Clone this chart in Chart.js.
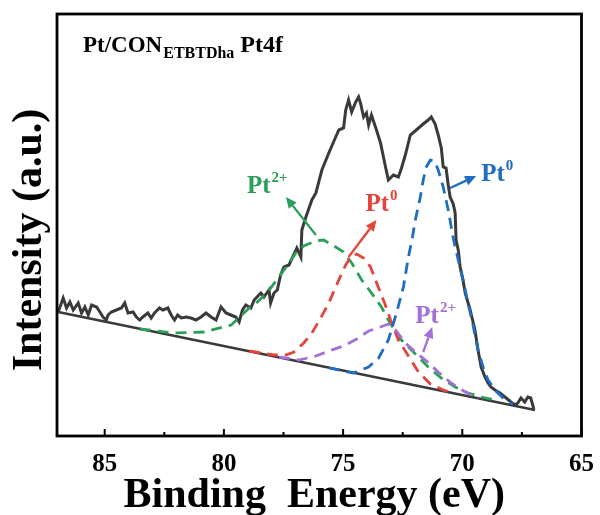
<!DOCTYPE html>
<html>
<head>
<meta charset="utf-8">
<script src="https://cdn.jsdelivr.net/npm/chart.js@4.4.1/dist/chart.umd.min.js"></script>
<style>
  html, body { margin: 0; padding: 0; background: #fff; }
</style>
</head>
<body>
<canvas id="myChart" width="600" height="515"></canvas>
<script>
// binding energy (eV) / intensity (a.u.)
const expE = [86.95,86.74,86.60,86.46,86.32,86.11,85.97,85.83,85.69,85.55,85.34,85.20,85.07,84.93,84.86,84.72,84.51,84.30,84.16,84.02,83.81,83.67,83.53,83.40,83.19,83.05,82.91,82.70,82.56,82.35,82.21,82.07,81.94,81.79,81.58,81.38,81.17,80.96,80.75,80.54,80.33,80.12,79.91,79.71,79.50,79.36,79.22,79.08,78.87,78.73,78.45,78.32,78.11,78.04,77.90,77.76,77.62,77.48,77.27,76.94,76.77,76.73,76.56,76.31,76.14,75.89,75.60,75.31,75.18,74.98,74.89,74.77,74.64,74.47,74.35,74.27,74.14,74.02,73.93,73.81,73.60,73.43,73.22,73.10,72.89,72.68,72.55,72.39,72.18,71.93,71.64,71.43,71.30,71.14,71.01,70.88,70.80,70.68,70.59,70.51,70.38,70.30,70.26,70.17,70.09,69.97,69.88,69.67,69.47,69.34,69.21,69.05,68.92,68.80,68.63,68.42,68.21,67.96,67.79,67.67,67.54,67.38,67.25,67.13,67.00];
const expI = [124,138,128,134,126,133,123,129,121,131,129,124,119,116,121,124,126,128,133,123,124,119,116,119,123,118,123,128,126,128,121,116,121,118,119,118,116,119,123,119,116,129,123,121,119,114,126,131,128,136,143,139,146,133,143,146,161,169,171,188,179,206,219,236,243,266,283,299,306,308,326,336,324,334,339,333,319,323,311,321,306,293,269,256,261,259,268,281,301,306,312,316,319,312,301,288,269,268,251,239,232,223,196,186,169,156,143,126,106,86,69,59,53,49,46,43,39,34,31,33,38,34,39,38,27];

const baseE = [86.95, 66.95];
const baseI = [124, 26];

const greenE = [83.53,82.07,80.82,79.69,78.94,78.73,78.19,77.48,76.98,76.65,76.14,75.81,75.31,74.98,74.64,74.22,73.81,73.39,73.10,72.68,72.26,71.84,71.43,70.88,70.30,69.76,69.21,68.63];
const greenI = [107,103,104,111,128,131,143,166,183,190,195,196,189,184,173,156,143,129,116,99,89,79,69,58,49,43,39,36];

const redE = [78.94,77.90,77.40,77.06,76.65,76.31,75.94,75.60,75.18,74.89,74.68,74.43,74.14,73.85,73.51,73.26,73.01,72.68,72.26,71.84,71.34,70.80,70.38];
const redI = [85,81,81,84,93,103,118,133,156,171,179,182,178,169,148,133,116,96,80,64,52,46,43];

const purpleE = [77.69,76.85,76.14,75.60,74.98,74.43,73.93,73.43,73.10,72.80,72.39,71.97,71.55,71.01,70.47,69.88,69.34];
const purpleI = [79,76,80,85,90,97,105,109,112,106,93,84,76,64,53,44,38];

const blueE = [75.60,74.56,73.93,73.51,73.10,72.76,72.47,72.26,72.09,71.97,71.76,71.64,71.51,71.34,71.17,71.01,70.80,70.59,70.38,70.17,69.97,69.76,69.55,69.34,69.13,68.92,68.59,68.21,67.88];
const blueI = [68,63,69,78,96,123,149,179,199,216,239,256,269,276,275,266,249,226,198,176,156,133,111,86,69,56,45,36,32];

const majorTicks = [85, 80, 75, 70, 65];
const minorTicks = [82.5, 77.5, 72.5, 67.5];

const GREEN = '#2b9f5a', RED = '#e5443a', BLUE = '#1f6cc4', PURPLE = '#a46fd6', GREY = '#3a3a3a';
const SERIF = '"Liberation Serif", "Times New Roman", serif';

// peak labels: text position, arrow start, arrow tip (all in data units)
const peakLabels = [
  { sup: '2+', color: GREEN,  at: [79.03, 243], from: [76.14, 201], to: [77.40, 239] },
  { sup: '0',  color: RED,    at: [74.06, 225], from: [74.77, 179], to: [73.60, 216] },
  { sup: '0',  color: BLUE,   at: [69.21, 255], from: [70.51, 248], to: [69.42, 260] },
  { sup: '2+', color: PURPLE, at: [71.97, 113], from: [71.64, 84],  to: [71.26, 109] }
];

function pts(xs, ys) {
  return xs.map((x, i) => ({ x: x, y: ys[i] }));
}

function dashed(xs, ys, color) {
  return { data: pts(xs, ys), borderColor: color, borderWidth: 2.8, borderDash: [11, 7],
           pointRadius: 0, tension: 0, fill: false };
}

const decor = {
  id: 'decor',
  afterDatasetsDraw(chart) {
    const ctx = chart.ctx, a = chart.chartArea;
    const sx = chart.scales.x, sy = chart.scales.y;
    ctx.save();
    // frame
    ctx.strokeStyle = '#000';
    ctx.lineWidth = 2.8;
    ctx.strokeRect(a.left, a.top, a.right - a.left, a.bottom - a.top);
    // inward ticks
    ctx.lineWidth = 2;
    majorTicks.forEach(v => {
      const px = sx.getPixelForValue(v);
      ctx.beginPath(); ctx.moveTo(px, a.bottom); ctx.lineTo(px, a.bottom - 7); ctx.stroke();
    });
    minorTicks.forEach(v => {
      const px = sx.getPixelForValue(v);
      ctx.beginPath(); ctx.moveTo(px, a.bottom); ctx.lineTo(px, a.bottom - 4); ctx.stroke();
    });

    // axis titles
    ctx.fillStyle = '#000';
    ctx.textAlign = 'center';
    ctx.font = 'bold 42px ' + SERIF;
    ctx.textBaseline = 'alphabetic';
    ctx.fillText('Binding  Energy (eV)', (a.left + a.right) / 2 - 5, 507);
    ctx.save();
    ctx.translate(30, (a.top + a.bottom) / 2 + 15);
    ctx.rotate(-Math.PI / 2);
    ctx.textBaseline = 'middle';
    ctx.fillText('Intensity (a.u.)', 0, 0);
    ctx.restore();
    ctx.textAlign = 'left';

    // sample title
    ctx.textBaseline = 'alphabetic';
    let tx = a.left + 26;
    ctx.font = 'bold 23px ' + SERIF;
    ctx.fillText('Pt/CON', tx, 52);
    tx += ctx.measureText('Pt/CON').width + 1;
    ctx.font = 'bold 16px ' + SERIF;
    ctx.fillText('ETBTDha', tx, 58);
    tx += ctx.measureText('ETBTDha').width + 6;
    ctx.font = 'bold 24px ' + SERIF;
    ctx.fillText('Pt4f', tx, 52);

    // peak labels with arrows
    peakLabels.forEach(l => {
      const x = sx.getPixelForValue(l.at[0]), y = sy.getPixelForValue(l.at[1]);
      ctx.fillStyle = l.color;
      ctx.font = 'bold 25px ' + SERIF;
      ctx.fillText('Pt', x, y);
      const w = ctx.measureText('Pt').width;
      ctx.font = 'bold 15px ' + SERIF;
      ctx.fillText(l.sup, x + w + 1, y - 11);

      const x0 = sx.getPixelForValue(l.from[0]), y0 = sy.getPixelForValue(l.from[1]);
      const x1 = sx.getPixelForValue(l.to[0]), y1 = sy.getPixelForValue(l.to[1]);
      const ang = Math.atan2(y1 - y0, x1 - x0);
      const hl = 11, hw = 5;
      ctx.strokeStyle = l.color;
      ctx.lineWidth = 2.3;
      ctx.beginPath();
      ctx.moveTo(x0, y0);
      ctx.lineTo(x1 - hl * Math.cos(ang), y1 - hl * Math.sin(ang));
      ctx.stroke();
      ctx.beginPath();
      ctx.moveTo(x1, y1);
      ctx.lineTo(x1 - hl * Math.cos(ang) + hw * Math.sin(ang), y1 - hl * Math.sin(ang) - hw * Math.cos(ang));
      ctx.lineTo(x1 - hl * Math.cos(ang) - hw * Math.sin(ang), y1 - hl * Math.sin(ang) + hw * Math.cos(ang));
      ctx.closePath();
      ctx.fill();
    });
    ctx.restore();
  }
};

const ctx = document.getElementById('myChart');
const myChart = new Chart(ctx, {
  type: 'line',
  data: {
    datasets: [
      dashed(blueE, blueI, BLUE),
      dashed(purpleE, purpleI, PURPLE),
      dashed(redE, redI, RED),
      dashed(greenE, greenI, GREEN),
      { data: pts(expE, expI), borderColor: GREY, borderWidth: 3, pointRadius: 0, tension: 0, fill: false },
      { data: pts(baseE, baseI), borderColor: GREY, borderWidth: 2.8, pointRadius: 0, tension: 0, fill: false }
    ]
  },
  options: {
    responsive: false,
    animation: false,
    layout: { padding: { top: 14, right: 16, left: 0, bottom: 0 } },
    plugins: { legend: { display: false }, tooltip: { enabled: false } },
    scales: {
      x: {
        type: 'linear', reverse: true, min: 65, max: 87,
        grid: { display: false }, border: { display: false },
        ticks: { stepSize: 5, includeBounds: false, color: '#000', padding: 6,
                 font: { family: SERIF, weight: 'bold', size: 25 } },
        afterFit(s) { s.height = 79; }
      },
      y: {
        min: 0, max: 422,
        grid: { display: false }, border: { display: false },
        ticks: { display: false },
        afterFit(s) { s.width = 57; }
      }
    }
  },
  plugins: [decor]
});
</script>
</body>
</html>
